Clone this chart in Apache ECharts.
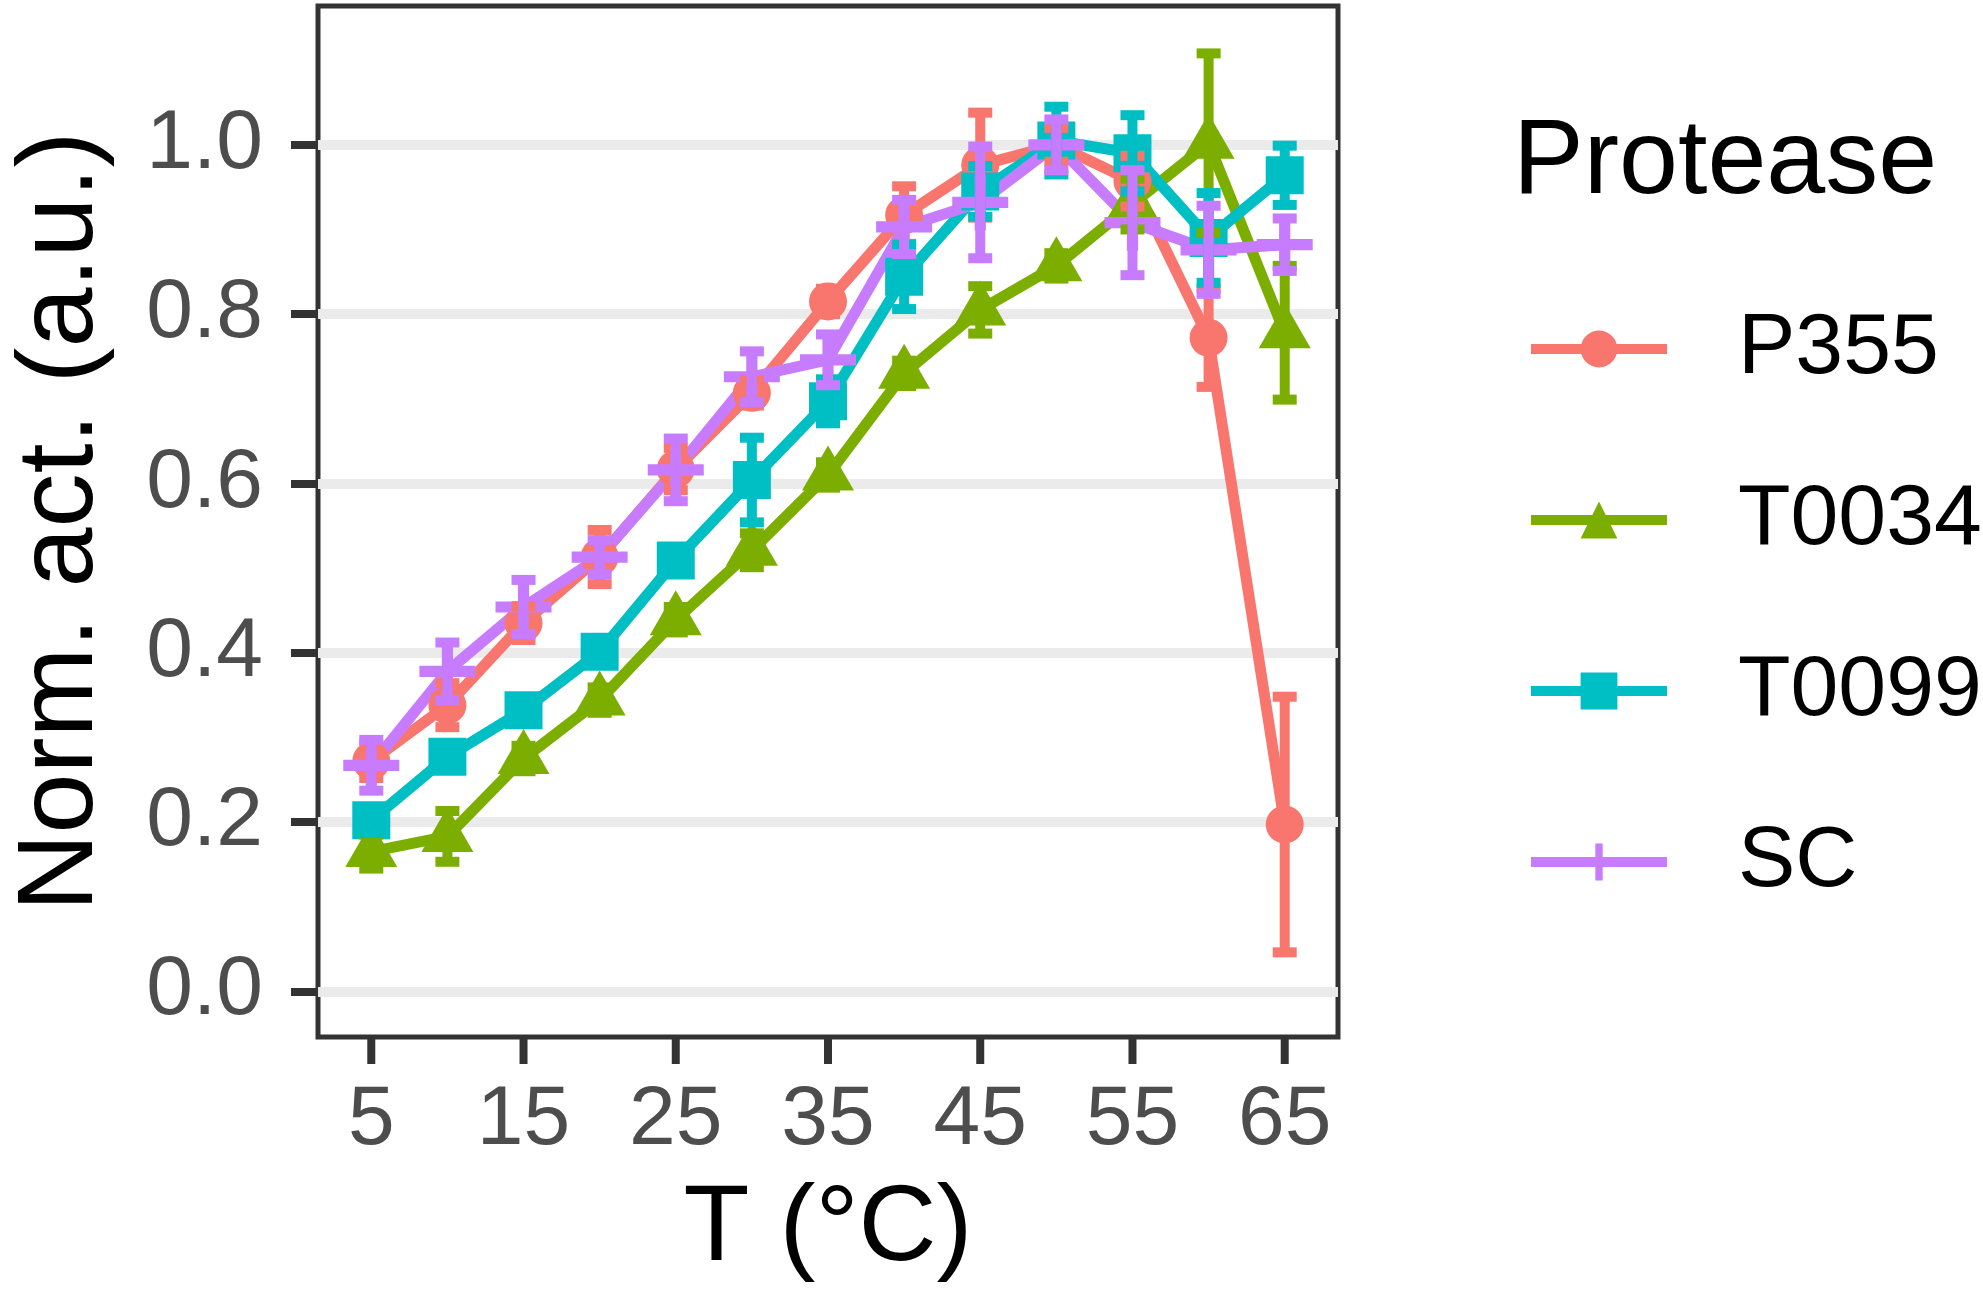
<!DOCTYPE html>
<html>
<head>
<meta charset="utf-8">
<script src="https://cdn.jsdelivr.net/npm/echarts@6.0.0/dist/echarts.min.js"></script>
<style>
  html, body { margin: 0; padding: 0; background: #fff; }
  #chart { width: 1983px; height: 1306px; }
</style>
</head>
<body>
<div id="chart"></div>
<script>
// temperatures (°C)
var temps = [5, 10, 15, 20, 25, 30, 35, 40, 45, 50, 55, 60, 65];

// normalised activity and error (half bar length) per protease
var p355    = [0.272, 0.338, 0.435, 0.513, 0.617, 0.707, 0.815, 0.917, 0.976, 1.000, 0.957, 0.772, 0.197];
var p355Err = [0.020, 0.026, 0.020, 0.032, 0.025, 0.015, 0.015, 0.034, 0.062, 0.020, 0.030, 0.058, 0.151];

var t0034    = [0.165, 0.183, 0.275, 0.344, 0.439, 0.521, 0.610, 0.730, 0.805, 0.857, 0.930, 1.002, 0.778];
var t0034Err = [0.020, 0.030, 0.015, 0.015, 0.015, 0.020, 0.015, 0.015, 0.028, 0.015, 0.030, 0.106, 0.079];

var t0099    = [0.202, 0.277, 0.332, 0.401, 0.509, 0.604, 0.697, 0.844, 0.945, 1.005, 0.990, 0.890, 0.964];
var t0099Err = [0.015, 0.015, 0.015, 0.015, 0.015, 0.050, 0.026, 0.038, 0.030, 0.040, 0.045, 0.053, 0.035];

var sc    = [0.267, 0.378, 0.454, 0.513, 0.616, 0.726, 0.746, 0.903, 0.932, 1.000, 0.908, 0.876, 0.882];
var scErr = [0.030, 0.034, 0.032, 0.020, 0.037, 0.030, 0.030, 0.032, 0.066, 0.030, 0.062, 0.052, 0.031];

// axis ticks
var xTicks = [5, 15, 25, 35, 45, 55, 65];
var yTicks = [0, 0.2, 0.4, 0.6, 0.8, 1.0];
var xMin = 1.5, xMax = 68.5;
var yMin = -0.054, yMax = 1.164;

var FONT = '"Liberation Sans", Arial, Helvetica, sans-serif';
var PLUS = 'path://M4,0H6V4H10V6H6V10H4V6H0V4H4Z';

var proteases = [
  { name: 'P355',  color: '#F8766D', vals: p355,  err: p355Err,  symbol: 'circle',   size: 38, offset: [0, 0] },
  { name: 'T0034', color: '#7CAE00', vals: t0034, err: t0034Err, symbol: 'triangle', size: [52, 45], offset: [0, -7] },
  { name: 'T0099', color: '#00BFC4', vals: t0099, err: t0099Err, symbol: 'rect',     size: 38, offset: [0, 0] },
  { name: 'SC',    color: '#C77CFF', vals: sc,    err: scErr,    symbol: PLUS,       size: 56, offset: [0, 0] }
];

function pairs(vals) {
  return temps.map(function (t, i) { return [t, vals[i]]; });
}

function errData(vals, err) {
  return temps.map(function (t, i) { return [t, vals[i] - err[i], vals[i] + err[i]]; });
}

function renderErr(color) {
  return function (params, api) {
    var lo = api.coord([api.value(0), api.value(1)]);
    var hi = api.coord([api.value(0), api.value(2)]);
    var w = 12;
    var style = { stroke: color, lineWidth: 10 };
    return {
      type: 'group',
      children: [
        { type: 'line', shape: { x1: lo[0], y1: lo[1], x2: hi[0], y2: hi[1] }, style: style },
        { type: 'line', shape: { x1: hi[0] - w, y1: hi[1], x2: hi[0] + w, y2: hi[1] }, style: style },
        { type: 'line', shape: { x1: lo[0] - w, y1: lo[1], x2: lo[0] + w, y2: lo[1] }, style: style }
      ]
    };
  };
}

var series = [];
proteases.forEach(function (p) {
  series.push({
    name: p.name,
    type: 'line',
    data: pairs(p.vals),
    symbol: p.symbol,
    symbolSize: p.size,
    symbolOffset: p.offset,
    symbolKeepAspect: true,
    showAllSymbol: true,
    lineStyle: { color: p.color, width: 11 },
    itemStyle: { color: p.color, borderWidth: 0 },
    emphasis: { disabled: true },
    z: 2
  });
});
proteases.forEach(function (p) {
  series.push({
    name: p.name,
    type: 'custom',
    data: errData(p.vals, p.err),
    renderItem: renderErr(p.color),
    encode: { x: 0, y: [1, 2] },
    z: 3
  });
});

// x-axis tick marks (only at labelled temperatures)
series.push({
  type: 'custom',
  silent: true,
  clip: false,
  data: xTicks.map(function (t) { return [t, yMin]; }),
  encode: { x: 0, y: 1 },
  renderItem: function (params, api) {
    var p = api.coord([api.value(0), api.value(1)]);
    return {
      type: 'line',
      shape: { x1: p[0], y1: p[1], x2: p[0], y2: p[1] + 27 },
      style: { stroke: '#333', lineWidth: 8 }
    };
  },
  z: 1
});

var chart = echarts.init(document.getElementById('chart'), null, { renderer: 'canvas' });

var option = {
  animation: false,
  backgroundColor: '#fff',
  textStyle: { fontFamily: FONT },
  title: {
    text: 'Protease',
    left: 1508,
    top: 106,
    textStyle: { fontFamily: FONT, fontSize: 106, fontWeight: 'normal', color: '#000' }
  },
  legend: {
    orient: 'vertical',
    left: 1521,
    top: 301,
    itemWidth: 136,
    itemHeight: 46,
    itemGap: 85,
    data: proteases.map(function (p) { return p.name; }),
    lineStyle: { width: 10 },
    textStyle: { fontFamily: FONT, fontSize: 86, color: '#000', padding: [0, 0, 0, 66] },
    selectedMode: false
  },
  grid: {
    left: 312,
    top: 6,
    width: 1026,
    height: 1031,
    show: true,
    borderColor: '#333',
    borderWidth: 5,
    backgroundColor: '#fff'
  },
  xAxis: {
    type: 'value',
    min: xMin,
    max: xMax,
    name: 'T (°C)',
    nameLocation: 'middle',
    nameGap: 139,
    nameTextStyle: { fontFamily: FONT, fontSize: 108, color: '#000' },
    axisLine: { show: false },
    axisTick: { show: false },
    axisLabel: { customValues: xTicks, fontSize: 84, color: '#4D4D4D', margin: 42, fontFamily: FONT },
    splitLine: { show: false }
  },
  yAxis: {
    type: 'value',
    min: yMin,
    max: yMax,
    name: 'Norm. act. (a.u.)',
    nameLocation: 'middle',
    nameGap: 202,
    nameTextStyle: { fontFamily: FONT, fontSize: 108, color: '#000' },
    axisLine: { show: false },
    axisTick: { show: true, customValues: yTicks, length: 27, lineStyle: { color: '#333', width: 8 } },
    axisLabel: {
      customValues: yTicks, fontSize: 84, color: '#4D4D4D', margin: 55, fontFamily: FONT,
      formatter: function (v) { return v.toFixed(1); }
    },
    splitLine: { show: true, lineStyle: { color: '#EBEBEB', width: 10 } }
  },
  series: series
};

chart.setOption(option);
</script>
</body>
</html>
